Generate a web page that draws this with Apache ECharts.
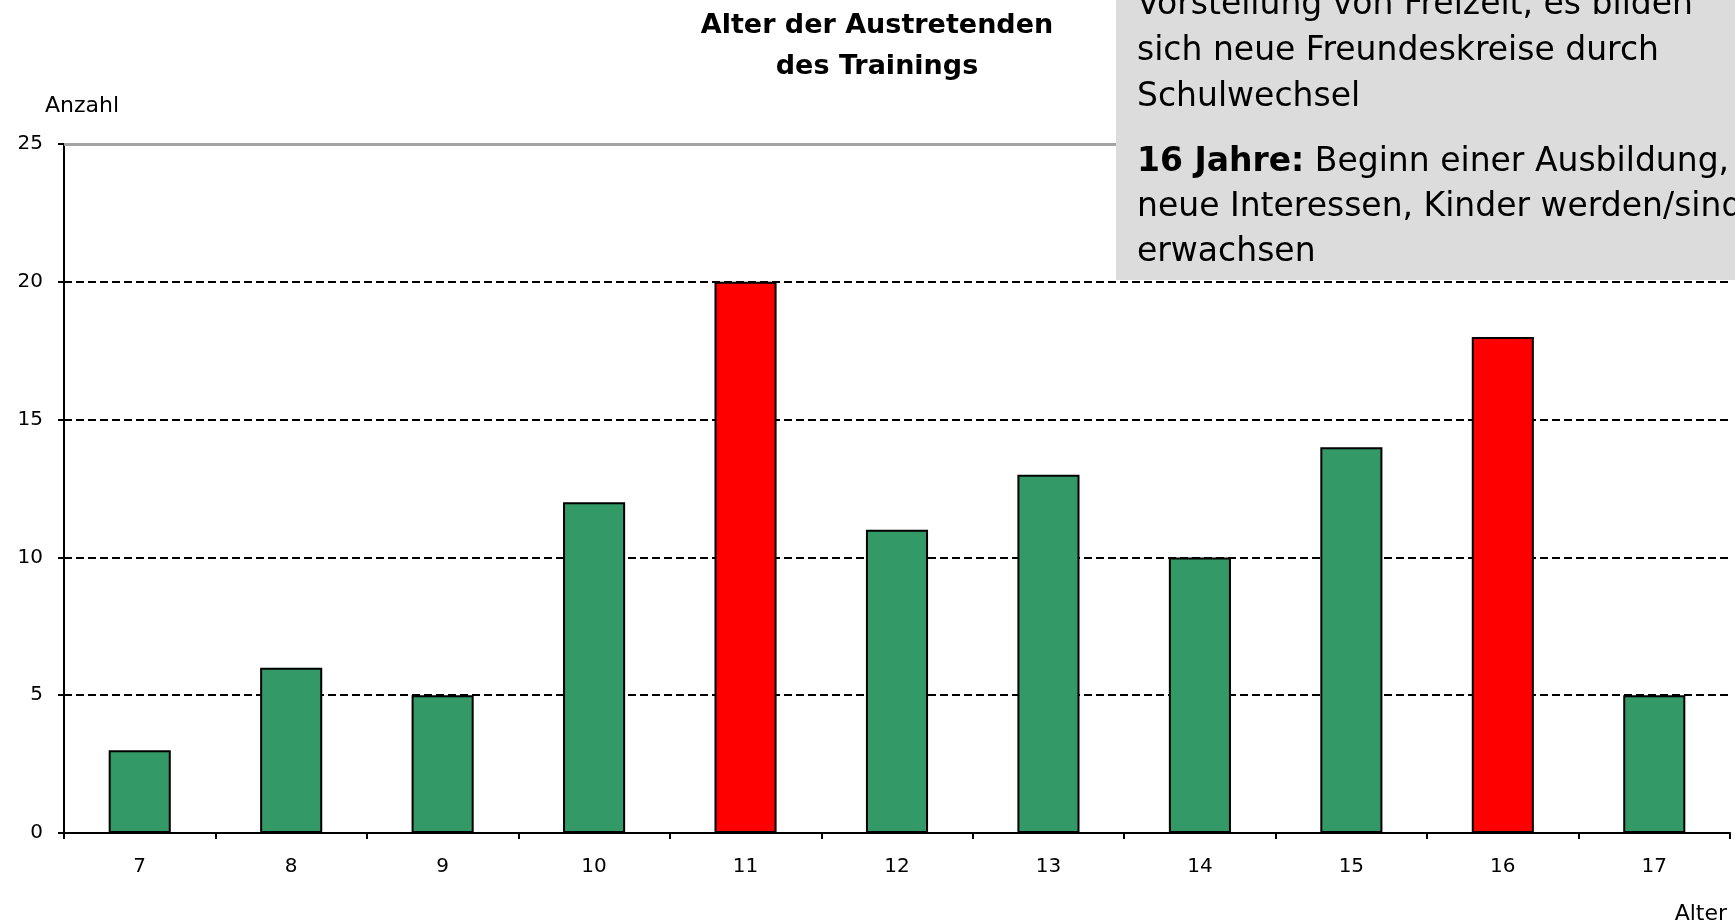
<!DOCTYPE html>
<html>
<head>
<meta charset="utf-8">
<script src="https://cdn.jsdelivr.net/npm/echarts@6/dist/echarts.min.js"></script>
<style>
  html, body { margin: 0; padding: 0; background: #fff; }
  #chart { width: 1735px; height: 923px; }
</style>
</head>
<body>
<div id="chart"></div>
<script>
// Alter der Austretenden (Jahre) und Anzahl
const alter = ['7', '8', '9', '10', '11', '12', '13', '14', '15', '16', '17'];
const anzahl = [3, 6, 5, 12, 20, 11, 13, 10, 14, 18, 5];
const hervorgehoben = ['11', '16'];
const yTicks = [0, 5, 10, 15, 20, 25];

const boxAbsatz1 = [
  'Vorstellung von Freizeit, es bilden',
  'sich neue Freundeskreise durch',
  'Schulwechsel'
];
const boxAbsatz2Fett = '16 Jahre:';
const boxAbsatz2 = [
  ' Beginn einer Ausbildung,',
  'neue Interessen, Kinder werden/sind',
  'erwachsen'
];

const font = 'DejaVu Sans';

let barData = [];
for (let i = 0; i < alter.length; i++) {
  let rot = hervorgehoben.indexOf(alter[i]) >= 0;
  barData.push({
    value: anzahl[i],
    itemStyle: { color: rot ? '#ff0000' : '#339966' }
  });
}

let ele = document.getElementById('chart');
let myChart = echarts.init(ele, null, { renderer: 'canvas' });

let option = {
  animation: false,
  backgroundColor: '#ffffff',
  title: {
    text: 'Alter der Austretenden\ndes Trainings',
    left: 877,
    top: 5,
    padding: 0,
    textAlign: 'center',
    textStyle: {
      fontFamily: font,
      fontWeight: 'bold',
      fontSize: 27,
      lineHeight: 41,
      color: '#000'
    }
  },
  grid: { left: 64, right: 5, top: 144, bottom: 90, containLabel: false, outerBoundsMode: 'none' },
  xAxis: {
    type: 'category',
    data: alter,
    name: 'Alter',
    nameLocation: 'end',
    nameGap: -3,
    nameTextStyle: {
      fontFamily: font, fontSize: 22, color: '#000',
      align: 'right', verticalAlign: 'top', padding: [70, 0, 0, 0]
    },
    axisLine: { show: true, lineStyle: { color: '#000', width: 2 } },
    axisTick: { show: true, alignWithLabel: false, length: 6, lineStyle: { color: '#000', width: 2 } },
    axisLabel: { fontFamily: font, fontSize: 20, color: '#000', margin: 24 },
    splitLine: { show: false }
  },
  yAxis: {
    type: 'value',
    min: yTicks[0],
    max: yTicks[yTicks.length - 1],
    interval: yTicks[1] - yTicks[0],
    name: 'Anzahl',
    nameLocation: 'end',
    nameGap: 38,
    nameTextStyle: {
      fontFamily: font, fontSize: 22, color: '#000',
      align: 'center', verticalAlign: 'middle', padding: [0, 0, 0, 36]
    },
    axisLine: { show: true, lineStyle: { color: '#000', width: 2 } },
    axisTick: { show: true, length: 6, lineStyle: { color: '#000', width: 2 } },
    axisLabel: { fontFamily: font, fontSize: 20, color: '#000', margin: 21 },
    splitLine: {
      show: true,
      lineStyle: {
        color: ['#000000', '#000000', '#000000', '#000000', '#000000', '#a6a6a6'],
        width: 2,
        type: [8, 4]
      }
    }
  },
  series: [
    {
      type: 'bar',
      data: barData,
      barWidth: '41%',
      itemStyle: { borderColor: '#000', borderWidth: 2 },
      markLine: {
        silent: true,
        symbol: 'none',
        label: { show: false },
        lineStyle: { color: '#a3a3a3', width: 3, type: 'solid' },
        data: [{ yAxis: yTicks[yTicks.length - 1] }]
      }
    }
  ],
  graphic: [
    {
      type: 'rect',
      left: 1116,
      top: -10,
      z: 100,
      shape: { width: 640, height: 290 },
      style: { fill: '#dcdcdc' }
    },
    {
      type: 'text',
      x: 1137,
      y: -18,
      z: 101,
      style: {
        text: boxAbsatz1.join('\n'),
        font: '33px "' + font + '"',
        fill: '#000',
        lineHeight: 46
      }
    },
    {
      type: 'text',
      x: 1137,
      y: 140,
      z: 101,
      style: {
        text: '{b|' + boxAbsatz2Fett + '}' + boxAbsatz2[0] + '\n' + boxAbsatz2.slice(1).join('\n'),
        fontFamily: font,
        fontSize: 33,
        fill: '#000',
        lineHeight: 45,
        rich: {
          b: { fontFamily: font, fontSize: 33, fontWeight: 'bold', lineHeight: 45 }
        }
      }
    }
  ]
};

myChart.setOption(option);
window.addEventListener('resize', myChart.resize);
</script>
</body>
</html>
